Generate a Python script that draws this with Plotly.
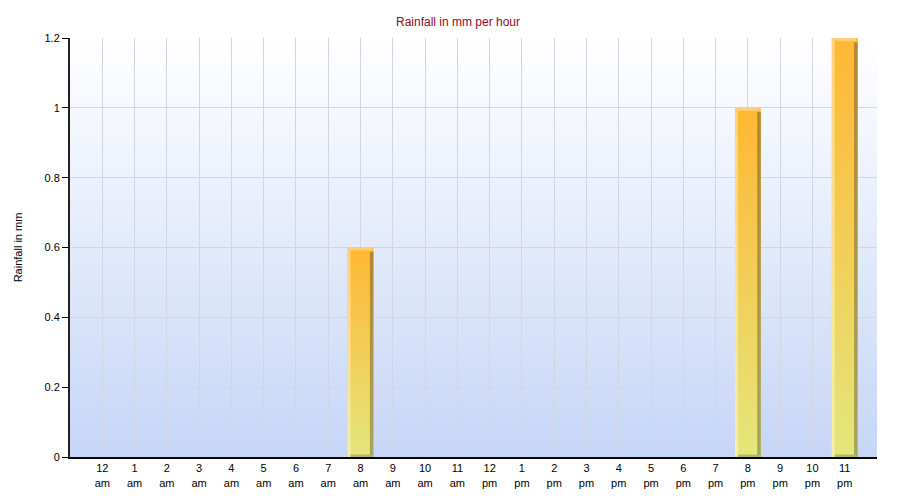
import base64
import struct
import zlib

import plotly.graph_objects as go

# Hourly rainfall
hours = ["12", "1", "2", "3", "4", "5", "6", "7", "8", "9", "10", "11",
         "12", "1", "2", "3", "4", "5", "6", "7", "8", "9", "10", "11"]
periods = ["am"] * 12 + ["pm"] * 12
rainfall = [0, 0, 0, 0, 0, 0, 0, 0, 0.6, 0, 0, 0,
            0, 0, 0, 0, 0, 0, 0, 0, 1.0, 0, 0, 1.2]

tick_labels = [f"{h}<br>{p}" for h, p in zip(hours, periods)]
FONT = "Liberation Sans, Arial, sans-serif"


# small vertical gradient png for the plot background
def gradient_png(top, bottom, n=200):
    rows = b""
    for i in range(n):
        t = i / (n - 1)
        px = bytes(int(round(a + (b - a) * t)) for a, b in zip(top, bottom))
        rows += b"\x00" + px
    def chunk(tag, data):
        c = struct.pack(">I", len(data)) + tag + data
        return c + struct.pack(">I", zlib.crc32(tag + data) & 0xffffffff)
    png = b"\x89PNG\r\n\x1a\n"
    png += chunk(b"IHDR", struct.pack(">IIBBBBB", 1, n, 8, 2, 0, 0, 0))
    png += chunk(b"IDAT", zlib.compress(rows))
    png += chunk(b"IEND", b"")
    return "data:image/png;base64," + base64.b64encode(png).decode()


def rect(x0, x1, y0, y1):
    return [x0, x1, x1, x0, x0], [y0, y0, y1, y1, y0]


def piece(xs, ys, top_col, bot_col):
    return go.Scatter(
        x=xs, y=ys, mode="lines", line=dict(width=0), fill="toself",
        fillgradient=dict(type="vertical",
                          colorscale=[[0, bot_col], [1, top_col]]),
        hoverinfo="skip", showlegend=False)


fig = go.Figure()

half = 0.4
for i, v in enumerate(rainfall):
    if v <= 0:
        continue
    # main body
    xs, ys = rect(i - half, i + half, 0, v)
    fig.add_trace(piece(xs, ys, "#FFB733", "#E4E67C"))
    # left highlight
    xs, ys = rect(i - half, i - half + 0.09, 0, v)
    fig.add_trace(piece(xs, ys, "#FFD27E", "#F1F2A6"))
    # right shaded side
    xs, ys = rect(i + half - 0.11, i + half, 0, v - 0.012)
    fig.add_trace(piece(xs, ys, "#B6852C", "#A6A65A"))
    # top cap
    xs, ys = rect(i - half, i + half - 0.05, v - 0.009, v)
    fig.add_trace(piece(xs, ys, "#FFD080", "#FFCB72"))
    # bottom strip
    xs, ys = rect(i - half + 0.09, i + half, 0, 0.007)
    fig.add_trace(piece(xs, ys, "#B5B56A", "#B5B56A"))

fig.add_layout_image(
    source=gradient_png((255, 255, 255), (198, 214, 247)),
    xref="x", yref="y", x=-1, y=1.2, sizex=25, sizey=1.2,
    sizing="stretch", xanchor="left", yanchor="top", layer="below")

fig.update_layout(
    width=900, height=500,
    margin=dict(l=62, r=31, t=30, b=51),
    paper_bgcolor="white",
    plot_bgcolor="rgba(0,0,0,0)",
    font=dict(family=FONT, size=11, color="black"),
    title=dict(text="Rainfall in mm per hour", x=0.5, xanchor="center",
               y=0.972, yanchor="middle",
               font=dict(family=FONT, size=12, color="#8B0A1E")),
    xaxis=dict(range=[-1, 24], tickmode="array",
               tickvals=list(range(24)), ticktext=tick_labels,
               showgrid=True, gridcolor="#D3D6E1", gridwidth=1,
               showline=True, linecolor="black", linewidth=2,
               ticks="", zeroline=False, fixedrange=True,
               automargin=False),
    yaxis=dict(range=[0, 1.2], tickvals=[0, 0.2, 0.4, 0.6, 0.8, 1, 1.2],
               ticktext=["0", "0.2", "0.4", "0.6", "0.8", "1", "1.2"],
               showgrid=True, gridcolor="#D3D6E1", gridwidth=1,
               showline=True, linecolor="#222222", linewidth=2,
               ticks="outside", ticklen=6, tickcolor="black",
               zeroline=False, fixedrange=True, automargin=False,
               title=dict(text="Rainfall in mm", standoff=20,
                          font=dict(family=FONT, size=11))),
)

fig.write_html("out.html")
